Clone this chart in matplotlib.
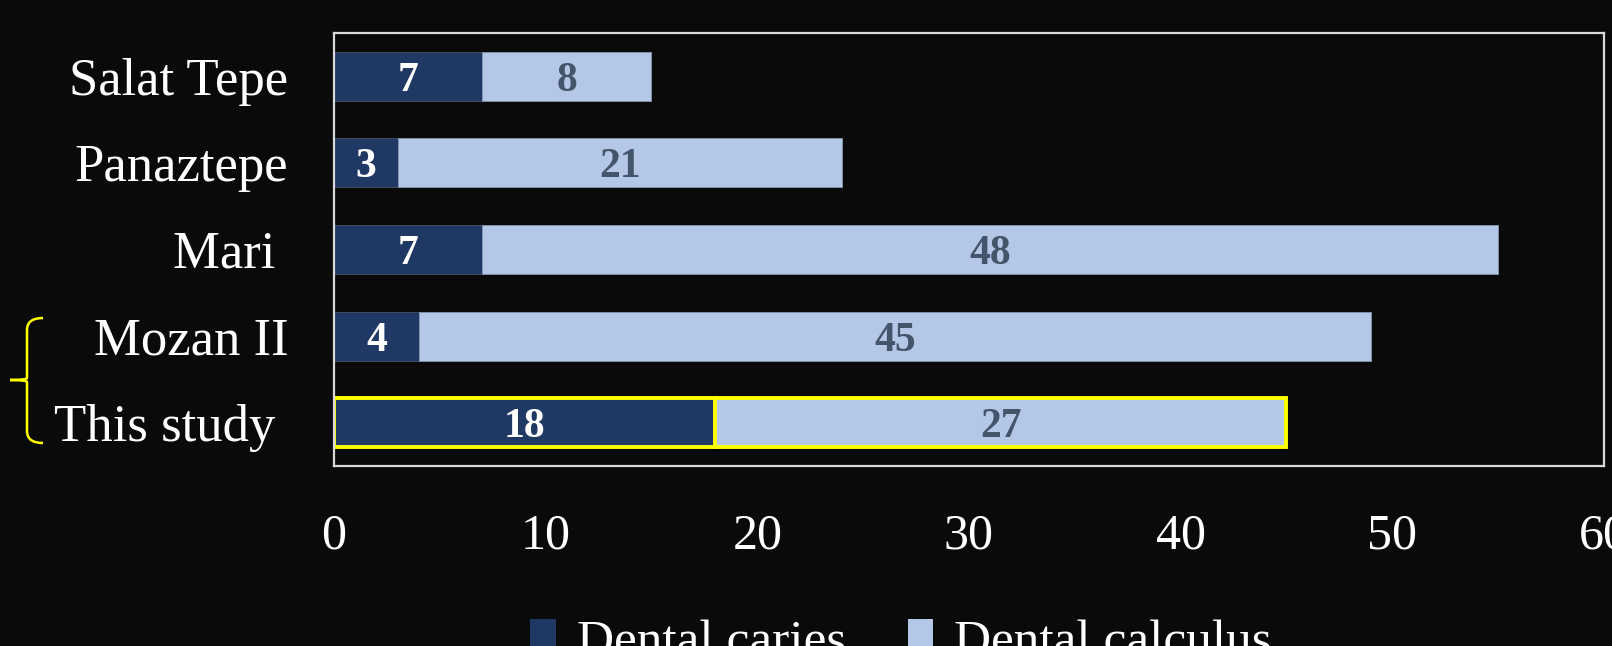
import matplotlib.pyplot as plt
from matplotlib.path import Path
from matplotlib.patches import PathPatch
import numpy as np

sites = ["Salat Tepe", "Panaztepe", "Mari ", "Mozan II", "This study "]
caries = [7, 3, 7, 4, 18]
calculus = [8, 21, 48, 45, 27]

bg = "#0a0a0a"
dark = "#203864"
light = "#b4c7e7"

plt.rcParams["font.family"] = ["Liberation Serif", "DejaVu Serif"]

fig = plt.figure(figsize=(16.12, 6.46), dpi=100, facecolor=bg)
ax = fig.add_axes([0.2072, 0.2786, 0.7878, 0.6704], facecolor=bg)

y = np.arange(len(sites))
h = 0.565
b1 = ax.barh(y, caries, height=h, color=dark, edgecolor="#44546a", linewidth=0.6,
             label="Dental caries")
b2 = ax.barh(y, calculus, left=caries, height=h, color=light, edgecolor="#8497b0",
             linewidth=0.6, label="Dental calculus")

# highlight this study
for bar in (b1[-1], b2[-1]):
    bar.set_edgecolor("#ffff00")
    bar.set_linewidth(2.8)

for i in range(len(sites)):
    ax.text(caries[i] / 2, y[i], str(caries[i]), ha="center", va="center_baseline",
            color="white", fontsize=30, fontweight="bold")
    ax.text(caries[i] + calculus[i] / 2, y[i], str(calculus[i]), ha="center",
            va="center_baseline", color="#44546a", fontsize=30, fontweight="bold")

ax.set_xlim(0, 60)
ax.set_ylim(len(sites) - 0.5, -0.5)
ax.set_xticks(range(0, 61, 10))
ax.set_yticks(y)
ax.set_yticklabels(sites)
ax.tick_params(axis="both", length=0, colors="white", labelsize=36)
ax.tick_params(axis="y", labelsize=38, pad=33)
ax.tick_params(axis="x", pad=34)
for sp in ax.spines.values():
    sp.set_color("#d9d9d9")
    sp.set_linewidth(1.6)

leg = fig.legend(handles=[b1, b2], loc="upper center", bbox_to_anchor=(0.559, 0.073),
                 ncol=2, frameon=False, fontsize=37, handlelength=0.5,
                 handleheight=0.7, handletextpad=0.4, columnspacing=1.2,
                 borderaxespad=0)
for t in leg.get_texts():
    t.set_color("white")
for hd in leg.legend_handles:
    hd.set_edgecolor("none")
    hd.set_linewidth(0)

# yellow brace grouping Mozan II and This study
W, H = 1612, 646
pts = [(43, 318), (27, 318), (27, 330), (27, 378), (27, 380), (10, 380), (27, 380),
       (27, 382), (27, 431), (27, 443), (43, 443)]
verts = [(px / W, 1 - py / H) for px, py in pts]
codes = [Path.MOVETO, Path.CURVE3, Path.CURVE3, Path.LINETO, Path.CURVE3,
         Path.CURVE3, Path.CURVE3, Path.CURVE3, Path.LINETO, Path.CURVE3, Path.CURVE3]
fig.patches.append(PathPatch(Path(verts, codes), transform=fig.transFigure,
                             fill=False, edgecolor="#ffff00", linewidth=1.8))

plt.savefig("out.png", dpi=100, facecolor=bg)
